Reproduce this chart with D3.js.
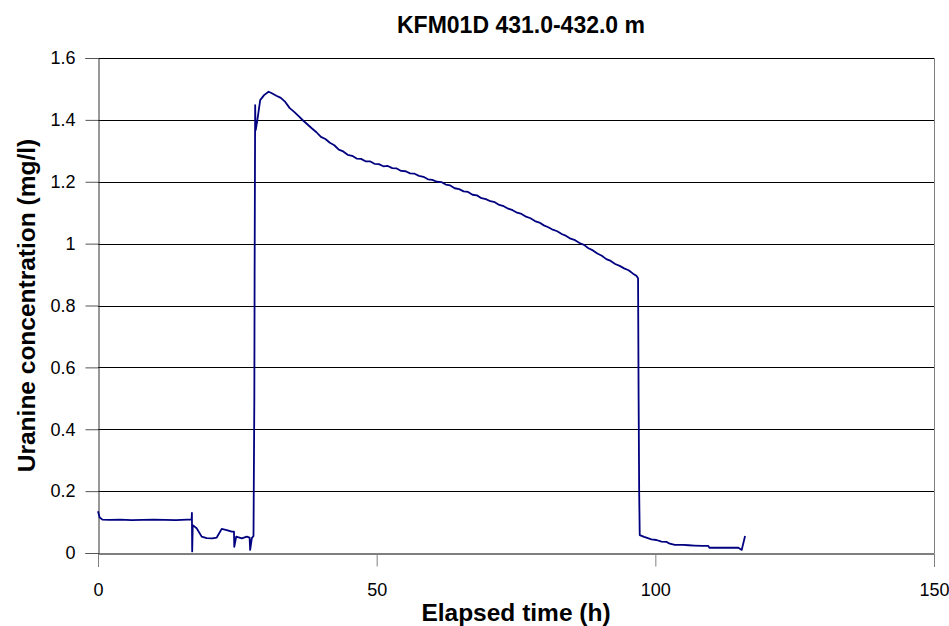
<!DOCTYPE html>
<html>
<head>
<meta charset="utf-8">
<script src="https://cdn.jsdelivr.net/npm/d3@7/dist/d3.min.js"></script>
<style>
  html, body { margin: 0; padding: 0; background: #fff; }
  svg { display: block; font-family: Arial, "Liberation Sans", sans-serif; }
</style>
</head>
<body>
<svg id="chart" width="949" height="626"></svg>
<script>
const title = "KFM01D 431.0-432.0 m";
const xLabel = "Elapsed time (h)";
const yLabel = "Uranine concentration (mg/l)";
const xTicks = [0, 50, 100, 150];
const yTicks = [0, 0.2, 0.4, 0.6, 0.8, 1, 1.2, 1.4, 1.6];

// elapsed time (h)
const timeH = [
  0, 0.3, 0.8, 2, 4, 6, 8, 10, 12, 14, 16, 16.8,
  16.85, 16.9, 17.0, 17.7, 18.6, 19.5, 20.5, 21.3, 22.2, 23.1, 24.0, 24.4, 24.45, 24.8, 25.8, 26.7, 27.2, 27.3, 27.6, 27.9,
  28.05, 28.1, 28.2, 28.25, 28.3, 28.6, 29.1, 29.8, 30.6,
  31.2, 32.0, 32.8, 33.6, 34.4, 35.2, 36.0, 36.8, 37.6, 38.4, 39.2, 40.0, 40.8, 41.6, 42.4, 43.2, 44.0, 44.8, 45.6, 46.4,
  47.2, 48.0, 48.8, 49.6, 50.4, 51.2, 52.0, 52.8, 53.6, 54.4, 55.2, 56.0, 56.8, 57.6, 58.4, 59.2, 60.0, 60.8, 61.6, 62.4,
  63.2, 64.0, 64.8, 65.6, 66.4, 67.2, 68.0, 68.8, 69.6, 70.4, 71.2, 72.0, 72.8, 73.6, 74.4, 75.2, 76.0, 76.8, 77.6, 78.4,
  79.2, 80.0, 80.8, 81.6, 82.4, 83.2, 84.0, 84.8, 85.6, 86.4, 87.2, 88.0, 88.8, 89.6, 90.4, 91.2, 92.0, 92.8, 93.6, 94.4,
  95.2, 96.0, 96.6, 96.9,
  97.0, 97.1, 97.2, 98.0, 99.3, 100.2, 101.1, 102.0, 102.6, 103.5, 105.0, 106.0, 107.0, 108.5, 109.5, 109.7, 112.0, 114.9, 115.5, 116.1
];

// uranine concentration (mg/l)
const concMgL = [
  0.135, 0.115, 0.108, 0.107, 0.108, 0.106, 0.107, 0.108, 0.107, 0.106, 0.108, 0.108,
  0.13, 0.005, 0.09, 0.08, 0.053, 0.048, 0.047, 0.05, 0.078, 0.074, 0.069, 0.069, 0.02, 0.053, 0.047, 0.053, 0.05, 0.01, 0.048, 0.055,
  0.5, 0.9, 1.448, 1.39, 1.367, 1.40, 1.464, 1.48, 1.491,
  1.486, 1.478, 1.471, 1.458, 1.438, 1.426, 1.412, 1.398, 1.385, 1.372, 1.360, 1.345, 1.338, 1.326, 1.318, 1.304, 1.298, 1.287, 1.284, 1.275,
  1.274, 1.266, 1.266, 1.258, 1.257, 1.250, 1.251, 1.244, 1.243, 1.235, 1.234, 1.227, 1.226, 1.219, 1.216, 1.208, 1.206, 1.200, 1.199, 1.191,
  1.188, 1.179, 1.176, 1.169, 1.167, 1.158, 1.156, 1.147, 1.144, 1.137, 1.134, 1.125, 1.121, 1.113, 1.108, 1.100, 1.096, 1.087, 1.082, 1.073,
  1.068, 1.059, 1.053, 1.045, 1.040, 1.031, 1.025, 1.016, 1.011, 1.002, 0.996, 0.985, 0.978, 0.968, 0.961, 0.950, 0.944, 0.934, 0.928, 0.920,
  0.914, 0.903, 0.896, 0.888,
  0.5, 0.2, 0.058, 0.052, 0.044, 0.042, 0.037, 0.036, 0.03, 0.026, 0.026, 0.025, 0.024, 0.023, 0.023, 0.017, 0.017, 0.017, 0.01, 0.055
];

const data = timeH.map((t, i) => ({ t, c: concMgL[i] }));

const svg = d3.select("#chart");
const plotL = 98, plotR = 934, plotT = 58, plotB = 553;

const x = d3.scaleLinear().domain([0, 150]).range([plotL, plotR]);
const y = d3.scaleLinear().domain([0, 1.6]).range([plotB, plotT]);

// gridlines
svg.append("g")
  .selectAll("line")
  .data(yTicks.filter(v => v > 0))
  .join("line")
  .attr("x1", plotL).attr("x2", plotR)
  .attr("y1", d => Math.round(y(d)) + 0.5)
  .attr("y2", d => Math.round(y(d)) + 0.5)
  .attr("stroke", "#000").attr("stroke-width", 1);

// right border
svg.append("line")
  .attr("x1", plotR + 0.5).attr("x2", plotR + 0.5)
  .attr("y1", plotT).attr("y2", plotB)
  .attr("stroke", "#808080").attr("stroke-width", 1);

// x axis
const xAxis = svg.append("g")
  .attr("transform", `translate(0,${Math.round(plotB) + 0.5})`)
  .call(d3.axisBottom(x).tickValues(xTicks).tickSize(13).tickPadding(17).tickFormat(d3.format("d")));
xAxis.select(".domain").attr("stroke", "#000");
xAxis.selectAll(".tick line").attr("stroke", "#808080");
xAxis.selectAll("text").attr("font-size", 18).attr("fill", "#000")
  .attr("font-family", "Arial, 'Liberation Sans', sans-serif");

// y axis
const yAxis = svg.append("g")
  .attr("transform", `translate(${plotL + 0.5},0)`)
  .call(d3.axisLeft(y).tickValues(yTicks).tickSize(13).tickPadding(10).tickFormat(d => String(+d.toFixed(1))));
yAxis.select(".domain").attr("stroke", "#333");
yAxis.selectAll(".tick line").attr("stroke", "#555");
yAxis.selectAll("text").attr("font-size", 18).attr("fill", "#000")
  .attr("font-family", "Arial, 'Liberation Sans', sans-serif");

// data line
const line = d3.line().x(d => x(d.t)).y(d => y(d.c));
svg.append("path")
  .datum(data)
  .attr("d", line)
  .attr("fill", "none")
  .attr("stroke", "#000080")
  .attr("stroke-width", 1.8)
  .attr("stroke-linejoin", "round");

// title
svg.append("text")
  .attr("x", (plotL + plotR) / 2 + 5).attr("y", 33)
  .attr("text-anchor", "middle")
  .attr("font-size", 23).attr("font-weight", "bold")
  .text(title);

// x label
svg.append("text")
  .attr("x", (plotL + plotR) / 2).attr("y", 621)
  .attr("text-anchor", "middle")
  .attr("font-size", 24.5).attr("font-weight", "bold")
  .text(xLabel);

// y label
svg.append("text")
  .attr("transform", `translate(35,${(plotT + plotB) / 2}) rotate(-90)`)
  .attr("text-anchor", "middle")
  .attr("font-size", 24.5).attr("font-weight", "bold")
  .text(yLabel);
</script>
</body>
</html>
